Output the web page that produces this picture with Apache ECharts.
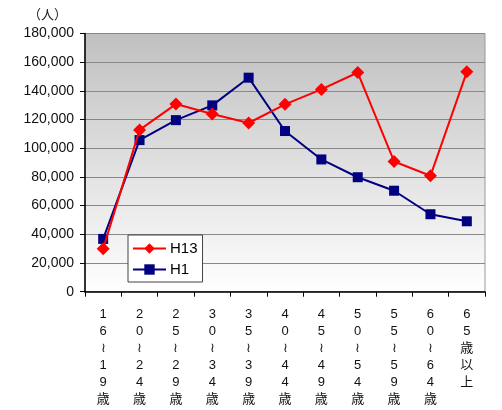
<!DOCTYPE html>
<html><head><meta charset="utf-8">
<script src="https://cdn.jsdelivr.net/npm/echarts@6/dist/echarts.min.js"></script>
<style>html,body{margin:0;padding:0;background:#fff}#c{width:502px;height:410px}</style>
</head><body><div id="c"></div>
<script>
var categories = ['16～19歳','20～24歳','25～29歳','30～34歳','35～39歳','40～44歳','45～49歳','50～54歳','55～59歳','60～64歳','65歳以上'];
var seriesNames = ['H13','H1'];
var h13 = [30000, 112800, 130800, 123900, 117600, 130600, 141000, 152800, 90800, 80800, 153300];
var h1 = [36800, 105700, 119600, 129900, 149200, 112000, 92200, 79800, 70400, 54000, 49100];
var yTicks = {min: 0, max: 180000, interval: 20000};
var unitLabel = '（人）';

var chart = echarts.init(document.getElementById('c'), null, {renderer:'canvas'});
var jp = '"Liberation Sans", Arial, "Noto Sans CJK JP", sans-serif';
chart.setOption({
  animation:false,
  backgroundColor:'#fff',
  textStyle:{fontFamily:jp},
  graphic:[{type:'text', left:28, top:8, style:{text:unitLabel, fill:'#222', font:'13px "Noto Sans CJK JP"'}}],
  grid:{left:85, right:17, top:33.5, bottom:118.3, show:true, borderColor:'#999', borderWidth:1,
    backgroundColor:{type:'linear', x:0, y:0, x2:0, y2:1, colorStops:[{offset:0,color:'#c0c0c0'},{offset:1,color:'#ffffff'}]}},
  legend:{orient:'vertical', left:128, top:235, width:74, backgroundColor:'#fff', borderColor:'#444', borderWidth:1,
    padding:[6,5,5,4], itemGap:6, itemWidth:33, itemHeight:13,
    textStyle:{fontSize:15, color:'#000', fontFamily:'"Liberation Sans", Arial', padding:[0,0,0,-1]}, data:seriesNames},
  xAxis:{type:'category', data:categories, boundaryGap:true,
    axisLine:{lineStyle:{color:'#000', width:1.5}},
    axisTick:{show:true, length:5, lineStyle:{color:'#000'}},
    axisLabel:{interval:0, margin:14, fontSize:13, lineHeight:17, color:'#111', fontFamily:'"Liberation Sans", "Noto Sans CJK JP"',
      formatter:function(v){return v.replace('～','≀').split('').join('\n');}}},
  yAxis:{type:'value', min:yTicks.min, max:yTicks.max, interval:yTicks.interval,
    axisLine:{show:true, lineStyle:{color:'#000', width:1.5}},
    axisTick:{show:true, length:5, lineStyle:{color:'#000'}},
    splitLine:{lineStyle:{color:'#888', width:1}},
    axisLabel:{fontSize:14, color:'#111', margin:11, fontFamily:'"Liberation Sans", Arial',
      formatter:function(v){return v.toLocaleString('en-US');}}},
  series:[
    {name:seriesNames[0], type:'line', data:h13, symbol:'diamond', symbolSize:13,
      lineStyle:{color:'#ff0000', width:2}, itemStyle:{color:'#ff0000'}, z:3},
    {name:seriesNames[1], type:'line', data:h1, symbol:'rect', symbolSize:10,
      lineStyle:{color:'#000080', width:2}, itemStyle:{color:'#000080'}, z:2}
  ]
});
</script></body></html>
